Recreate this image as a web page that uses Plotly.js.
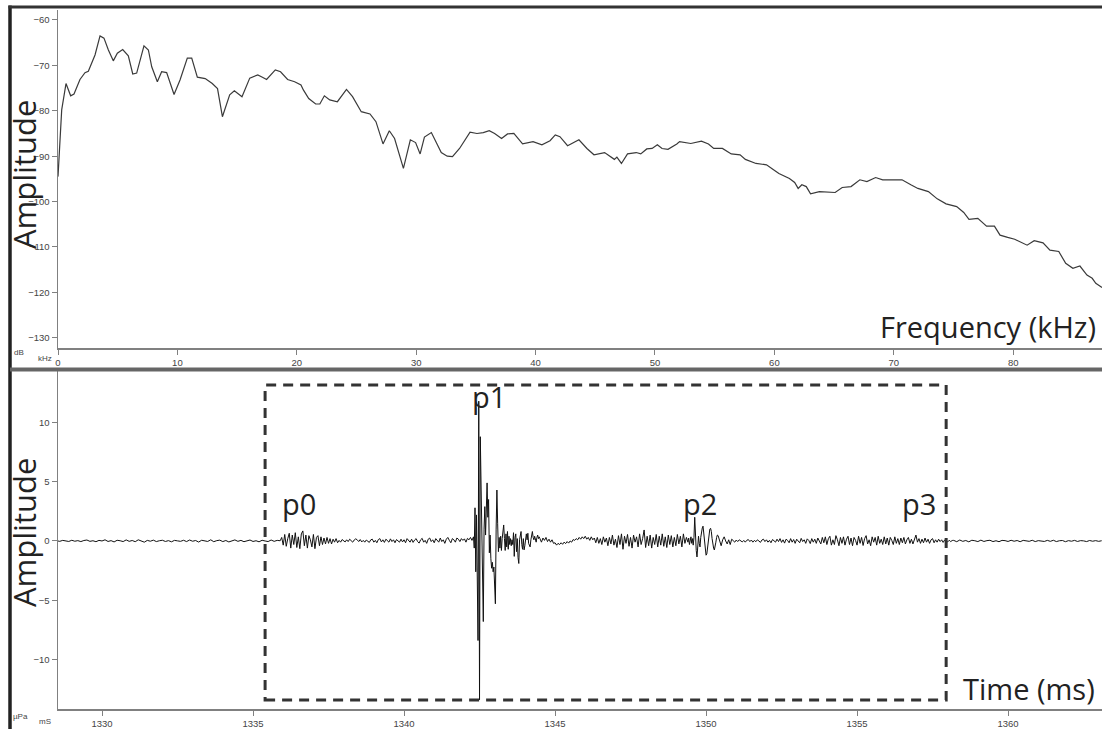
<!DOCTYPE html>
<html>
<head>
<meta charset="utf-8">
<script src="https://cdn.plot.ly/plotly-3.0.1.min.js"></script>
<style>
html,body{margin:0;padding:0;background:#fff;}
#chart{width:1102px;height:729px;}
</style>
</head>
<body>
<div id="chart"></div>
<script>
// ---------- Spectrum (top panel) ----------
const specFreq = [0.00,0.15,0.31,0.67,1.06,1.34,1.84,2.26,2.54,3.10,3.52,3.85,4.22,4.63,4.97,5.42,5.89,6.26,6.59,7.20,7.57,7.85,8.32,8.68,9.10,9.72,10.22,10.83,11.20,11.67,12.33,12.92,13.36,13.77,14.38,14.77,15.41,16.06,16.73,17.12,17.47,18.20,18.64,19.23,19.82,20.35,20.55,21.00,21.58,21.93,22.31,22.76,23.40,24.16,24.67,25.40,26.13,26.63,27.22,27.75,28.19,28.93,29.51,29.95,30.33,30.69,31.27,32.10,32.60,33.04,33.63,34.51,35.09,35.62,36.12,36.57,37.15,37.65,38.18,38.91,39.79,40.53,41.21,41.65,42.04,42.68,43.63,44.30,44.89,45.78,46.22,46.60,46.81,47.19,47.70,48.43,48.81,49.31,49.76,50.20,50.59,51.09,51.83,52.06,53.00,53.89,54.48,54.92,55.65,56.39,57.13,57.57,58.46,59.34,59.78,60.38,61.26,61.70,61.99,62.30,62.67,63.03,63.77,64.50,65.09,65.68,66.42,67.16,67.75,68.48,69.07,69.81,70.69,71.43,72.02,72.90,73.35,73.64,74.38,75.27,75.86,76.30,77.04,77.77,78.43,78.90,79.54,80.13,81.17,81.76,82.50,83.08,83.82,84.40,85.00,85.59,86.18,86.62,86.92,87.44];
const specDb = [-94.5,-86.0,-79.8,-74.0,-76.7,-76.3,-73.1,-71.6,-71.3,-67.7,-63.5,-64.0,-66.6,-69.0,-67.3,-66.5,-67.9,-71.9,-71.7,-65.7,-66.6,-70.3,-73.6,-71.4,-71.6,-76.4,-73.2,-68.4,-68.4,-72.6,-72.9,-74.0,-75.1,-81.3,-76.5,-75.6,-76.9,-72.8,-72.1,-72.6,-73.1,-71.0,-71.4,-73.1,-73.6,-74.3,-75.4,-77.3,-78.5,-78.5,-76.7,-77.6,-78.0,-75.3,-76.9,-80.2,-80.7,-82.4,-87.3,-84.4,-86.1,-92.7,-86.4,-87.0,-89.5,-85.8,-84.8,-89.2,-90.0,-90.1,-88.3,-84.7,-85.0,-84.8,-84.4,-85.0,-86.1,-85.1,-85.0,-87.3,-86.8,-87.5,-86.6,-85.3,-85.7,-87.7,-86.4,-88.3,-89.7,-89.2,-90.1,-90.7,-90.2,-91.6,-89.5,-89.2,-89.5,-88.4,-88.3,-87.5,-88.3,-88.5,-87.3,-86.8,-87.2,-86.7,-87.3,-88.3,-88.3,-89.5,-89.7,-90.7,-91.6,-91.9,-92.7,-93.8,-94.9,-95.8,-97.1,-96.3,-96.7,-98.3,-97.8,-97.9,-98.0,-96.9,-96.7,-95.2,-95.6,-94.7,-95.2,-95.2,-95.2,-96.3,-97.1,-97.8,-98.9,-99.4,-100.5,-101.1,-102.4,-103.9,-103.7,-105.4,-105.4,-107.4,-107.9,-108.3,-109.6,-108.6,-109.1,-110.7,-111.0,-113.6,-114.7,-114.2,-116.2,-116.9,-118.0,-118.9];
const specXTicks = [0,10,20,30,40,50,60,70,80];
const specYTicks = [-130,-120,-110,-100,-90,-80,-70,-60];

// ---------- Waveform (bottom panel), sampled segments ----------
const wavePreStart = 1328.5, wavePreStep = 0.1;
const wavePreAmp = [0.02,-0.03,0.05,0.0,-0.04,0.06,-0.02,0.03,-0.05,0.04,
 0.08,-0.03,0.02,-0.06,0.05,0.0,0.1,-0.04,0.03,-0.08,
 0.06,0.02,-0.05,0.09,-0.03,0.04,-0.06,0.1,0.03,-0.1,
 0.05,-0.02,0.07,-0.05,0.02,0.06,-0.04,0.03,-0.07,0.05,
 0.01,-0.03,0.06,-0.05,0.08,-0.02,0.04,-0.09,0.06,0.02,
 -0.04,0.1,-0.06,0.03,0.07,-0.05,0.04,-0.08,0.02,0.09,
 -0.03,0.05,-0.06,0.03,0.08,-0.04,0.02,-0.07,0.06,0.0,
 -0.05,0.08,-0.03,0.05];

const waveP0Start = 1335.9, waveP0Step = 0.05;
const waveP0Amp = [0.02,0.3,-0.35,0.55,-0.45,0.2,0.65,-0.6,0.5,-0.3,
 0.7,-0.55,0.35,-0.65,0.6,0.85,-0.4,0.5,-0.6,0.45,
 0.1,-0.5,0.55,-0.65,0.3,0.45,-0.4,0.35,-0.3,0.25,
 -0.25,0.3,-0.2,0.2,-0.25,0.15,-0.1,0.2,-0.15,0.05,
 -0.1,0.12,0.05,-0.08,0.1,-0.05,0.15,0.05,-0.1,0.08,
 0.18,0.1,-0.05,0.12,-0.08,0.05,-0.1,0.08,-0.05,-0.12,
 0.1,0.15,-0.1,0.05,-0.15,0.12,0.2,-0.08,0.1,-0.12,
 0.15,0.05,-0.1,0.18,-0.05,0.1,-0.15,0.12,0.0,-0.1,
 0.15,-0.08,0.1,-0.15,0.2,0.05,-0.1,0.15,-0.12,0.08,
 0.2,-0.05,-0.18,0.1,0.22,-0.1,0.05,-0.2,0.15,0.25,
 -0.05,0.1,-0.15,0.2,0.05,-0.1,0.25,-0.05,0.1,-0.2,
 0.15,0.3,0.05,-0.15,0.2,0.1,-0.1,0.25,0.15,-0.05,
 0.2,0.05,0.18,-0.1,0.22,0.1,0.3,0.05];

const waveP1Start = 1342.3, waveP1Step = 0.025;
const waveP1Amp = [0.35,-0.6,2.8,-2.6,2.2,-2.5,-8.4,11.8,-13.4,8.8,
 5.2,-2.0,-4.5,-6.8,1.0,2.9,0.5,2.0,4.9,2.0,
 3.5,-1.0,0.5,-1.5,-2.3,-1.8,-2.6,-2.2,-4.0,-5.3,
 1.0,4.3,1.5,-0.9,0.3,-0.6,0.4,-0.8,0.2,1.0,
 1.35,0.2,-0.8,0.6,-0.5,0.8,-0.7,0.4,-0.3,0.2,
 -0.4,0.1,-0.3,0.7,-1.3,0.3,0.6,-0.9,0.2,-1.4,
 -1.9,0.1,0.5,0.8,-0.3,-0.7,0.2,-0.75,-0.4,0.3,
 0.6,0.1,0.65,-0.2,-0.4,-0.5,0.1,0.5,0.8,0.3,
 0.1,0.4,0.2,-0.1,0.3,0.5,0.2,0.35];

const waveMidStart = 1344.5, waveMidStep = 0.05;
const waveMidAmp = [0.2,-0.1,0.25,0.05,0.3,-0.05,0.15,-0.1,0.1,-0.2,
 -0.15,-0.35,-0.2,-0.3,-0.15,-0.28,-0.1,-0.22,-0.05,-0.18,
 0.0,-0.1,0.12,0.05,0.2,0.1,0.3,0.15,0.35,0.2,
 0.4,0.15,0.3,0.05,0.35,0.1,0.25,-0.15,0.3,-0.2,
 0.2,-0.3,0.35,-0.1,0.25,-0.4,0.3,-0.25,0.5,-0.35,
 0.15,-0.55,0.45,-0.3,0.6,-0.7,0.4,-0.2,0.55,-0.45,
 0.3,-0.6,0.5,-0.1,0.35,-0.5,0.6,-0.3,0.2,0.93,
 -0.55,0.4,-0.4,0.5,-0.6,0.3,-0.3,0.55,-0.5,0.4,
 -0.35,0.6,-0.45,0.35,-0.55,0.5,-0.3,0.45,-0.5,0.3,
 -0.4,0.55,-0.25,0.4,-0.5,0.6,-0.2,0.3];

const waveP2Start = 1349.4, waveP2Step = 0.025;
const waveP2Amp = [-0.1,0.25,-0.3,0.1,0.35,-0.2,0.2,-0.35,0.3,2.0,
 0.2,-0.8,-1.35,0.1,0.4,-0.2,-0.5,0.3,0.8,1.1,
 1.25,0.6,-0.2,-0.8,-1.2,-1.1,-0.5,0.2,0.7,1.0,
 1.07,0.8,0.2,-0.3,-0.6,-0.76,-0.5,-0.1,0.3,0.5];

const wavePostStart = 1350.4, wavePostStep = 0.05;
const wavePostAmp = [0.45,-0.1,-0.4,0.1,0.35,0.0,-0.25,0.1,-0.3,0.15,
 0.05,-0.1,0.08,-0.05,0.1,0.02,-0.08,0.05,-0.1,0.06,
 0.12,-0.05,0.08,-0.1,0.05,-0.06,0.1,0.0,-0.12,0.08,
 0.15,-0.05,0.1,-0.1,0.05,-0.15,0.12,0.02,-0.1,0.15,
 -0.05,0.2,-0.12,0.1,-0.18,0.15,0.05,-0.15,0.2,-0.1,
 0.12,-0.2,0.15,0.0,-0.15,0.22,-0.05,0.1,-0.2,0.18,
 0.05,-0.22,0.2,-0.1,0.15,-0.2,0.25,0.0,-0.25,0.3,
 -0.15,0.35,-0.3,0.2,0.4,-0.35,0.1,-0.3,0.45,0.1,
 -0.4,0.3,-0.2,0.35,-0.35,0.15,0.4,-0.3,0.25,-0.4,
 0.3,0.05,-0.35,0.4,-0.2,0.3,-0.38,0.2,0.45,-0.25,
 0.1,-0.4,0.35,-0.1,0.3,-0.35,0.4,-0.2,0.15,-0.3,
 0.35,-0.25,0.25,-0.35,0.3,0.05,-0.3,0.35,-0.2,0.2,
 -0.3,0.25,-0.15,0.3,-0.25,0.1,0.3,-0.2,0.15,-0.25,
 0.2,0.5,-0.1,0.2,-0.2,0.15,-0.15,0.25,-0.1,0.15,
 -0.2,0.1,0.2,-0.15,0.1,-0.1,0.15,-0.05,0.1,-0.12,
 0.08,0.0,-0.08,0.06,-0.05,0.04];

const waveTailStart = 1358.2, waveTailStep = 0.1;
const waveTailAmp = [0.05,-0.06,0.08,-0.03,0.04,-0.07,0.06,0.02,-0.05,0.07,
 -0.04,0.03,0.06,-0.05,0.02,-0.06,0.05,0.03,-0.04,0.06,
 -0.02,0.04,-0.06,0.05,0.0,-0.03,0.06,-0.05,0.03,0.02,
 -0.04,0.05,-0.03,0.06,-0.05,0.02,0.04,-0.06,0.03,-0.02,
 0.05,-0.04,0.03,0.01,-0.05,0.04,-0.02,0.03,-0.03,0.02];

const waveXTicks = [1330,1335,1340,1345,1350,1355,1360];
const waveYTicks = [-10,-5,0,5,10];
const boxTimes = [1335.4, 1357.95];
const boxAmps = [-13.42, 13.16];
const peakLabels = ['p0','p1','p2','p3'];

// build sampled waveform
const segs = [
  [wavePreStart, wavePreStep, wavePreAmp],
  [waveP0Start, waveP0Step, waveP0Amp],
  [waveP1Start, waveP1Step, waveP1Amp],
  [waveMidStart, waveMidStep, waveMidAmp],
  [waveP2Start, waveP2Step, waveP2Amp],
  [wavePostStart, wavePostStep, wavePostAmp],
  [waveTailStart, waveTailStep, waveTailAmp]
];
const waveT = [], waveA = [];
segs.forEach(([t0, dt, arr]) => {
  arr.forEach((v, i) => { waveT.push(+(t0 + i*dt).toFixed(4)); waveA.push(v); });
});

const W = 1102, H = 729;
const px = x => x / W;
const py = y => 1 - y / H;

const tickFont = {family: 'Liberation Sans, Arial, sans-serif', size: 9.5, color: '#444'};
const axCommon = {
  showline: true, linecolor: '#808080', linewidth: 1.5,
  ticks: 'outside', ticklen: 5, tickcolor: '#808080', tickwidth: 1,
  tickfont: tickFont, showgrid: false, zeroline: false, fixedrange: true
};

const traces = [
  {x: specFreq, y: specDb, type: 'scatter', mode: 'lines', xaxis: 'x', yaxis: 'y',
   line: {color: '#3a3a3a', width: 1.2}, hoverinfo: 'skip'},
  {x: waveT, y: waveA, type: 'scatter', mode: 'lines', xaxis: 'x2', yaxis: 'y2',
   line: {color: '#111', width: 1}, hoverinfo: 'skip'}
];

const labelFont = {family: 'Open Sans, sans-serif', size: 29, color: '#222'};
const ampFont = {family: 'Open Sans, sans-serif', size: 31, color: '#222'};
const smallFont = {family: 'Liberation Sans, Arial, sans-serif', size: 8, color: '#444'};

const layout = {
  width: W, height: H,
  margin: {l: 0, r: 0, t: 0, b: 0},
  paper_bgcolor: '#fff', plot_bgcolor: '#fff',
  showlegend: false,
  xaxis: Object.assign({}, axCommon, {domain: [px(58), 1], range: [0, 87.44], anchor: 'y',
    tickvals: specXTicks}),
  yaxis: Object.assign({}, axCommon, {domain: [py(348), py(10)], range: [-132.25, -57.8], anchor: 'x',
    tickvals: specYTicks}),
  xaxis2: Object.assign({}, axCommon, {domain: [px(58), 1], range: [1328.543, 1363.11], anchor: 'y2',
    tickvals: waveXTicks}),
  yaxis2: Object.assign({}, axCommon, {domain: [py(709), py(370)], range: [-14.18, 14.43], anchor: 'x2',
    tickvals: waveYTicks}),
  shapes: [
    {type: 'line', xref: 'paper', yref: 'paper', x0: px(10), x1: px(10), y0: 0, y1: py(5.5),
     line: {color: '#222', width: 3.5}},
    {type: 'line', xref: 'paper', yref: 'paper', x0: px(8.5), x1: 1, y0: py(7), y1: py(7),
     line: {color: '#333', width: 3}},
    {type: 'line', xref: 'paper', yref: 'paper', x0: px(10), x1: 1, y0: py(369.5), y1: py(369.5),
     line: {color: '#666', width: 4}},
    {type: 'rect', xref: 'x2', yref: 'y2', x0: boxTimes[0], x1: boxTimes[1], y0: boxAmps[0], y1: boxAmps[1],
     line: {color: '#333', width: 3, dash: '10px,7px'}, fillcolor: 'rgba(0,0,0,0)'}
  ],
  annotations: [
    {text: 'Amplitude', xref: 'paper', yref: 'paper', x: px(24), y: py(175), textangle: -90,
     xanchor: 'center', yanchor: 'middle', showarrow: false, font: ampFont},
    {text: 'Amplitude', xref: 'paper', yref: 'paper', x: px(24), y: py(533), textangle: -90,
     xanchor: 'center', yanchor: 'middle', showarrow: false, font: ampFont},
    {text: 'Frequency (kHz)', xref: 'paper', yref: 'paper', x: px(1098), y: py(326),
     xanchor: 'right', yanchor: 'middle', showarrow: false, font: labelFont},
    {text: 'Time (ms)', xref: 'paper', yref: 'paper', x: px(1097), y: py(688),
     xanchor: 'right', yanchor: 'middle', showarrow: false, font: labelFont},
    {text: peakLabels[0], xref: 'paper', yref: 'paper', x: px(299), y: py(503),
     xanchor: 'center', yanchor: 'middle', showarrow: false, font: labelFont},
    {text: peakLabels[1], xref: 'paper', yref: 'paper', x: px(489), y: py(396),
     xanchor: 'center', yanchor: 'middle', showarrow: false, font: labelFont},
    {text: peakLabels[2], xref: 'paper', yref: 'paper', x: px(700), y: py(503),
     xanchor: 'center', yanchor: 'middle', showarrow: false, font: labelFont},
    {text: peakLabels[3], xref: 'paper', yref: 'paper', x: px(919), y: py(503),
     xanchor: 'center', yanchor: 'middle', showarrow: false, font: labelFont},
    {text: 'dB', xref: 'paper', yref: 'paper', x: px(19), y: py(352),
     xanchor: 'center', yanchor: 'middle', showarrow: false, font: smallFont},
    {text: 'kHz', xref: 'paper', yref: 'paper', x: px(45), y: py(358),
     xanchor: 'center', yanchor: 'middle', showarrow: false, font: smallFont},
    {text: 'µPa', xref: 'paper', yref: 'paper', x: px(20), y: py(716),
     xanchor: 'center', yanchor: 'middle', showarrow: false, font: smallFont},
    {text: 'mS', xref: 'paper', yref: 'paper', x: px(45), y: py(721),
     xanchor: 'center', yanchor: 'middle', showarrow: false, font: smallFont}
  ]
};

Plotly.newPlot('chart', traces, layout, {displayModeBar: false, staticPlot: true});
</script>
</body>
</html>
